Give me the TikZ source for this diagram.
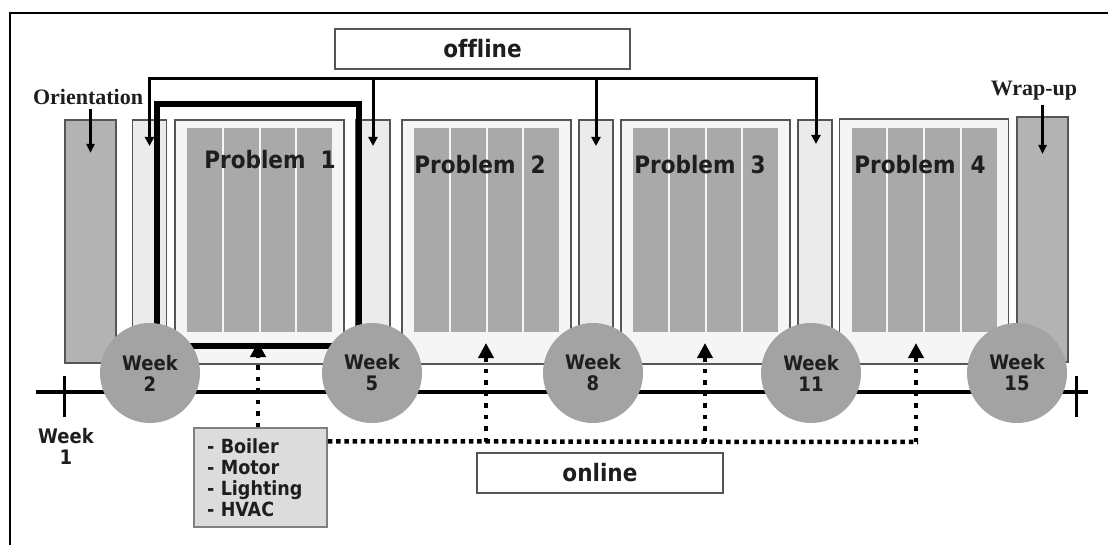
\documentclass[tikz,border=0pt]{standalone}
\usepackage{fontspec}
\usetikzlibrary{arrows.meta}
\newfontfamily\cond[Ligatures=NoCommon]{DejaVu Sans Condensed}
\newfontfamily\serifb{Liberation Serif}
\definecolor{txt}{HTML}{1E1E1E}
\definecolor{bordc}{HTML}{555555}
\definecolor{probfill}{HTML}{F5F5F5}
\definecolor{gapfill}{HTML}{EBEBEB}
\definecolor{darkfill}{HTML}{B3B3B3}
\definecolor{colfill}{HTML}{A9A9A9}
\definecolor{circfill}{HTML}{A3A3A3}
\definecolor{boxfill}{HTML}{DCDCDC}
\begin{document}
\begin{tikzpicture}[x=1pt,y=-1pt,
  darkbar/.style={draw=bordc,fill=darkfill,line width=1.2pt,inner sep=0pt,outer sep=0pt,minimum width=51pt},
  gapbar/.style={draw=bordc,fill=gapfill,line width=1.2pt,inner sep=0pt,outer sep=0pt,minimum width=34pt,minimum height=244pt},
  probbox/.style={draw=bordc,fill=probfill,line width=1.2pt,inner sep=0pt,outer sep=0pt,minimum width=169pt,minimum height=244pt},
  probtxt/.style={font=\cond\bfseries\fontsize{24}{24}\selectfont,text=txt,inner sep=0pt},
  weekc/.style={circle,fill=circfill,minimum size=100pt,inner sep=0pt,font=\cond\bfseries\fontsize{20}{21}\selectfont,align=center,text=txt},
  weektxt/.style={font=\cond\bfseries\fontsize{20}{21}\selectfont,align=center,text=txt,inner sep=0pt},
  labelbox/.style={draw=bordc,line width=1.2pt,fill=white,inner sep=0pt,minimum height=40pt,font=\cond\bfseries\fontsize{24}{24}\selectfont,text=txt},
  serlabel/.style={font=\serifb\bfseries\fontsize{22}{22}\selectfont,text=txt,inner sep=0pt},
  offarrow/.style={line width=3pt,-{Triangle[width=9pt,length=9pt]}},
  offline/.style={line width=3pt},
  dotv/.style={line width=4.5pt,dash pattern=on 4.5pt off 7pt},
  doth/.style={line width=4.5pt,dash pattern=on 4.5pt off 3.8pt},
  tipup/.style={-{Triangle[width=15pt,length=15pt]}},
  thin arrow/.style={line width=2.5pt,-{Triangle[width=8pt,length=9pt]}}
]
\useasboundingbox (0,0) rectangle (1108,545);
% frame
\draw[line width=2pt] (10,545) -- (10,13) -- (1108,13);

% bars and problem boxes
\node[darkbar,minimum height=243pt] (orient) at (90.5,241.5) {};
\node[gapbar] (g1) at (149.5,242) {};
\node[probbox] (P1) at (259.5,242) {};
\node[gapbar] (g2) at (373,242) {};
\node[probbox] (P2) at (486.5,242) {};
\node[gapbar] (g3) at (596,242) {};
\node[probbox] (P3) at (705.5,242) {};
\node[gapbar] (g4) at (815,242) {};
\node[probbox,minimum height=245pt] (P4) at (924,241.5) {};
\node[darkbar,minimum height=245pt] (wrap) at (1042.5,239.5) {};

% inner columns
\foreach \cx in {259.5,486.5,705.5,924}{
  \foreach \i in {0,1,2,3}{
    \fill[colfill] ({\cx-73.5+\i*36.75+1},128) rectangle ++(34.75,204);
  }
}

% problem labels
\node[probtxt] (t1) at (270,160) {Problem~~1};
\node[probtxt] (t2) at (480,165) {Problem~~2};
\node[probtxt] (t3) at (700,165) {Problem~~3};
\node[probtxt] (t4) at (920,165) {Problem~~4};

% highlight rectangle
\draw[line width=6pt] (157,104) rectangle (358.5,346);

% timeline
\draw[line width=4pt] (36,392) -- (1088,392);
\draw[line width=3pt] (64,376) -- (64,417);
\draw[line width=3pt] (1076,376) -- (1076,417);
\node[weektxt] (w1) at (66,446) {Week\\1};

% week circles
\node[weekc] (w2) at (150,373) {Week\\2};
\node[weekc] (w5) at (372,373) {Week\\5};
\node[weekc] (w8) at (593,373) {Week\\8};
\node[weekc] (w11) at (811,373) {Week\\11};
\node[weekc] (w15) at (1017,373) {Week\\15};

% orientation / wrap-up
\node[serlabel] (orl) at (88,97) {Orientation};
\node[serlabel] (wrl) at (1034,91) {Wrap-up};
\draw[thin arrow] ([yshift=-4pt]orient.north |- orl.south) -- ([yshift=-33pt]orient.north);
\draw[thin arrow] ([yshift=-4pt]wrap.north |- wrl.south) -- ([yshift=-37pt]wrap.north);

% offline
\node[labelbox,minimum width=295pt] (off) at (482.5,49) {offline};
\coordinate (b1) at (149.5,79);
\coordinate (b2) at (373,79);
\coordinate (b3) at (596,79);
\coordinate (b4) at (816,79);
\draw[offline] ([xshift=-1.5pt]b1) -- ([xshift=1.5pt]b4);
\draw[offarrow] (b1) -- ([yshift=-26pt]g1.north);
\draw[offarrow] (b2) -- ([yshift=-26pt]g2.north);
\draw[offarrow] (b3) -- ([yshift=-26pt]g3.north);
\draw[offarrow] (b4) -- ([xshift=1pt,yshift=-24pt]g4.north);

% online
\node[labelbox,minimum width=246pt] (on) at (600,473) {online};

% topics box
\node[draw=gray,fill=boxfill,line width=1.5pt,inner xsep=13pt,inner ysep=0pt,text width=107pt,minimum height=99pt,align=left,font=\cond\bfseries\fontsize{19.5}{21}\selectfont,text=txt] (topics) at (260.5,477.5) {- Boiler\\- Motor\\- Lighting\\- HVAC};

% dotted connectors
\coordinate (h2) at (486,442);
\coordinate (h3) at (705,442);
\coordinate (h4) at (916,442);
\draw[doth] ([yshift=-14pt]topics.north east) -- ([xshift=2pt]h4);
\draw[dotv,tipup] (topics.north -| 258,0) -- (258,342);
\draw[dotv,tipup] (h2) -- (h2 |- 0,343);
\draw[dotv,tipup] (h3) -- (h3 |- 0,343);
\draw[dotv,tipup] (h4) -- (h4 |- 0,343);
\end{tikzpicture}
\end{document}
